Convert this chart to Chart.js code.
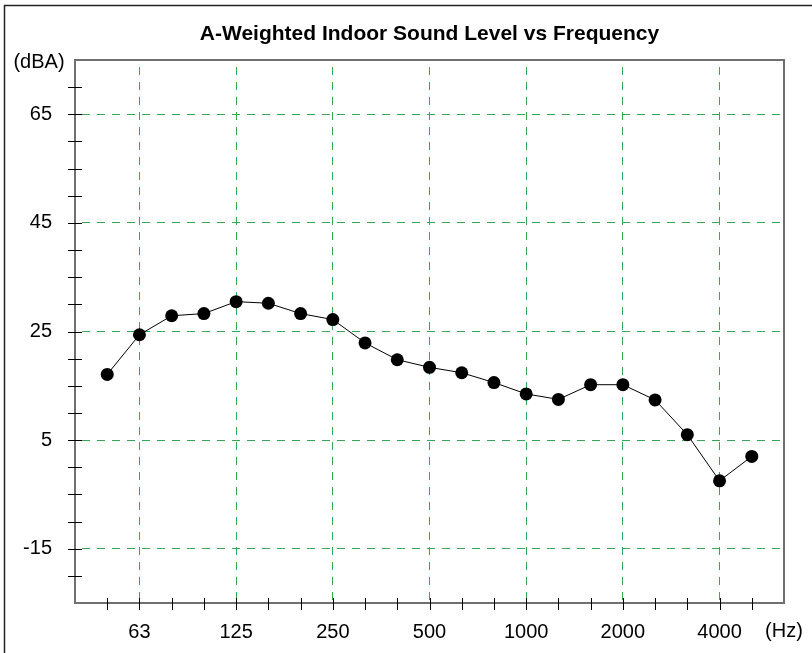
<!DOCTYPE html>
<html>
<head>
<meta charset="utf-8">
<script src="https://cdn.jsdelivr.net/npm/chart.js@4/dist/chart.umd.min.js"></script>
<style>
  body { margin: 0; background: #fff; }
</style>
</head>
<body>
<canvas id="chart" width="812" height="653"></canvas>
<script>
// third-octave bands and levels
var freqs = ['50', '63', '80', '100', '125', '160', '200', '250', '315', '400', '500',
             '630', '800', '1000', '1250', '1600', '2000', '2500', '3150', '4000', '5000'];
var levels = [17.1, 24.4, 27.9, 28.3, 30.5, 30.2, 28.3, 27.2, 22.9, 19.8, 18.4,
              17.4, 15.6, 13.5, 12.5, 15.2, 15.2, 12.4, 6.0, -2.5, 2.0];
var xLabels = ['63', '125', '250', '500', '1000', '2000', '4000'];
var yLabels = [65, 45, 25, 5, -15];
var title = 'A-Weighted Indoor Sound Level vs Frequency';

var FONT = '"Liberation Sans", Arial, sans-serif';
var GREEN = 'rgb(52,168,84)';

// frame, tick marks and the free texts
var decorations = {
  id: 'decorations',
  beforeDatasetsDraw: function (chart) {
    var c = chart.ctx, a = chart.chartArea;
    var sx = chart.scales.x, sy = chart.scales.y;
    c.save();
    // outer border
    c.strokeStyle = '#222';
    c.lineWidth = 1.5;
    c.beginPath();
    c.moveTo(4.5, 660); c.lineTo(4.5, 5.5); c.lineTo(820, 5.5);
    c.stroke();
    // plot box
    c.strokeStyle = '#707070';
    c.lineWidth = 2;
    c.strokeRect(a.left, a.top, a.right - a.left, a.bottom - a.top);
    // tick marks crossing the axes
    c.strokeStyle = '#000';
    c.lineWidth = 1;
    c.beginPath();
    sy.ticks.forEach(function (t) {
      var y = Math.round(sy.getPixelForValue(t.value)) + 0.5;
      c.moveTo(a.left - 7, y); c.lineTo(a.left + 7, y);
    });
    sx.ticks.forEach(function (t) {
      var x = Math.round(sx.getPixelForValue(t.value)) + 0.5;
      c.moveTo(x, a.bottom - 5); c.lineTo(x, a.bottom + 7);
    });
    c.stroke();
    // texts
    c.fillStyle = '#000';
    c.textAlign = 'center';
    c.textBaseline = 'alphabetic';
    c.font = 'bold 21px ' + FONT;
    c.fillText(title, (a.left + a.right) / 2, 40);
    c.font = '20px ' + FONT;
    c.fillText('(dBA)', 39, 68);
    c.fillText('(Hz)', a.right, 637);
    c.restore();
  }
};

var ctx = document.getElementById('chart').getContext('2d');
var chart = new Chart(ctx, {
  type: 'line',
  data: {
    datasets: [{
      data: levels.map(function (v, i) { return { x: i, y: v }; }),
      borderColor: '#000',
      borderWidth: 1,
      pointRadius: 6.5,
      pointBackgroundColor: '#000',
      pointBorderWidth: 0,
      tension: 0
    }]
  },
  options: {
    responsive: false,
    animation: false,
    layout: { padding: { left: 0, top: 60, right: 28, bottom: 0 } },
    plugins: {
      legend: { display: false },
      title: { display: false },
      tooltip: { enabled: false }
    },
    scales: {
      x: {
        type: 'linear',
        min: -1,
        max: 21,
        afterFit: function (scale) { scale.height = 50; },
        afterBuildTicks: function (scale) {
          scale.ticks = scale.ticks.filter(function (t) { return t.value >= 0 && t.value <= 20; });
        },
        ticks: {
          stepSize: 1,
          autoSkip: false,
          maxRotation: 0,
          padding: 17,
          color: '#000',
          font: { family: FONT, size: 20 },
          callback: function (v) {
            return xLabels.indexOf(freqs[v]) >= 0 ? freqs[v] : '';
          }
        },
        grid: {
          drawTicks: false,
          lineWidth: 1,
          color: function (c) {
            return c.tick && xLabels.indexOf(freqs[c.tick.value]) >= 0 ? GREEN : 'rgba(0,0,0,0)';
          }
        },
        border: { display: false, dash: [8, 7], dashOffset: 8 }
      },
      y: {
        min: -25,
        max: 75,
        afterFit: function (scale) { scale.width = 75; },
        afterBuildTicks: function (scale) {
          scale.ticks = scale.ticks.filter(function (t) { return t.value > -25 && t.value < 75; });
        },
        ticks: {
          stepSize: 5,
          autoSkip: false,
          padding: 23,
          color: '#000',
          font: { family: FONT, size: 20 },
          callback: function (v) { return yLabels.indexOf(v) >= 0 ? v : ''; }
        },
        grid: {
          drawTicks: false,
          lineWidth: 1,
          color: function (c) {
            return c.tick && yLabels.indexOf(c.tick.value) >= 0 ? GREEN : 'rgba(0,0,0,0)';
          }
        },
        border: { display: false, dash: [8, 7], dashOffset: 8 }
      }
    }
  },
  plugins: [decorations]
});
</script>
</body>
</html>
